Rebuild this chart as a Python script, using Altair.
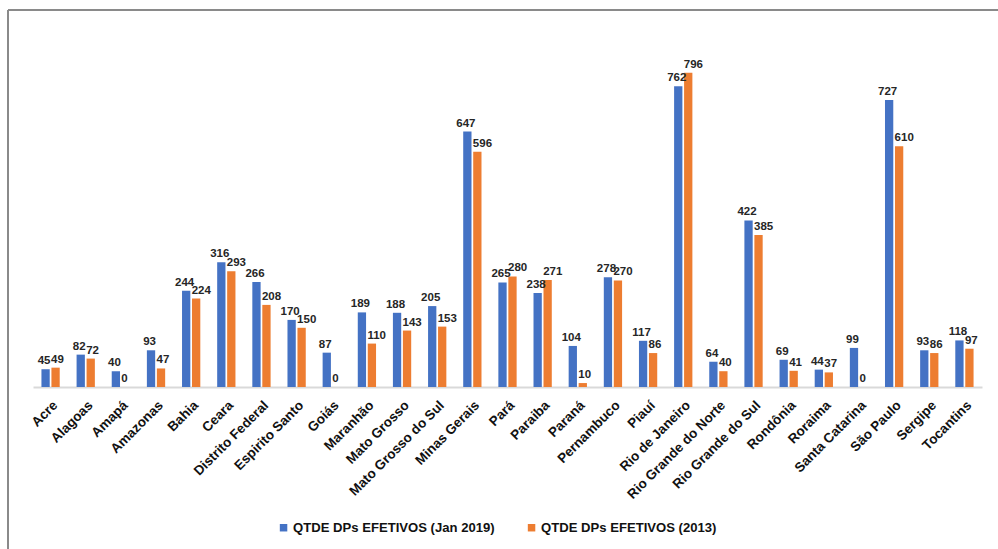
import altair as alt
import pandas as pd

states = ["Acre", "Alagoas", "Amapá", "Amazonas", "Bahia", "Ceara", "Distrito Federal",
          "Espirito Santo", "Goiás", "Maranhão", "Mato Grosso", "Mato Grosso do Sul",
          "Minas Gerais", "Pará", "Paraiba", "Paraná", "Pernambuco", "Piauí",
          "Rio de Janeiro", "Rio Grande do Norte", "Rio Grande do Sul", "Rondônia",
          "Roraima", "Santa Catarina", "São Paulo", "Sergipe", "Tocantins"]
jan2019 = [45, 82, 40, 93, 244, 316, 266, 170, 87, 189, 188, 205, 647, 265, 238, 104,
           278, 117, 762, 64, 422, 69, 44, 99, 727, 93, 118]
y2013 = [49, 72, 0, 47, 224, 293, 208, 150, 0, 110, 143, 153, 596, 280, 271, 10,
         270, 86, 796, 40, 385, 41, 37, 0, 610, 86, 97]
series = ["QTDE DPs EFETIVOS (Jan 2019)", "QTDE DPs EFETIVOS (2013)"]
colors = ["#4472C4", "#ED7D31"]

rows = []
for s, a, b in zip(states, jan2019, y2013):
    rows.append({"estado": s, "serie": series[0], "valor": a})
    rows.append({"estado": s, "serie": series[1], "valor": b})
df = pd.DataFrame(rows)

FONT = "Liberation Sans, Arial"

x = alt.X("estado:N", sort=states, title=None,
          scale=alt.Scale(paddingInner=0.48, paddingOuter=0.24),
          axis=alt.Axis(labelAngle=-45, labelFont=FONT,
                        labelFontWeight="bold", labelFontSize=13.5, labelColor="#111111",
                        labelPadding=11, ticks=False, domainColor="#d9d9d9",
                        domainWidth=2, labelLimit=0, grid=False))
y = alt.Y("valor:Q", scale=alt.Scale(domain=[0, 836], nice=False), axis=None)
xo = alt.XOffset("serie:N", sort=series, scale=alt.Scale(paddingInner=0.17))

base = alt.Chart(df)

bars = base.mark_bar().encode(
    x=x, y=y, xOffset=xo,
    color=alt.Color("serie:N", sort=series,
                    scale=alt.Scale(domain=series, range=colors),
                    legend=alt.Legend(title=None, orient="none", direction="horizontal",
                                      legendX=244, legendY=464, padding=0,
                                      symbolType="square", symbolSize=56,
                                      symbolStrokeWidth=0, labelFont=FONT,
                                      labelFontWeight="bold", labelFontSize=13.1,
                                      labelColor="#111111", labelLimit=0,
                                      columnPadding=30, labelOffset=3)),
)

label_style = dict(baseline="bottom", dy=-3, font=FONT, fontWeight="bold",
                   fontSize=11.5, color="#262626")

labels_a = base.transform_filter(alt.datum.serie == series[0]).mark_text(
    align="center", dx=-1.5, **label_style).encode(
    x=x, y=y, xOffset=xo, text=alt.Text("valor:Q"))
labels_b = base.transform_filter(alt.datum.serie == series[1]).mark_text(
    align="left", dx=-4.5, **label_style).encode(
    x=x, y=y, xOffset=xo, text=alt.Text("valor:Q"))

frame_df = pd.DataFrame({"k": [0]})
left_line = alt.Chart(frame_df).mark_rule(color="#8a8a8a", strokeWidth=2).encode(
    x=alt.value(-25), y=alt.value(-47), y2=alt.value(492))
top_line = alt.Chart(frame_df).mark_rule(color="#8a8a8a", strokeWidth=2).encode(
    x=alt.value(-25), x2=alt.value(970), y=alt.value(-47))

chart = alt.layer(bars, labels_a, labels_b, left_line, top_line).properties(
    width=949, height=330,
    background="white",
    autosize=alt.AutoSizeParams(type="none"),
    padding={"left": 33, "top": 57, "right": 16, "bottom": 162},
).configure_view(stroke=None)

chart.save("out.html", embed_options={"renderer": "svg", "actions": False})
